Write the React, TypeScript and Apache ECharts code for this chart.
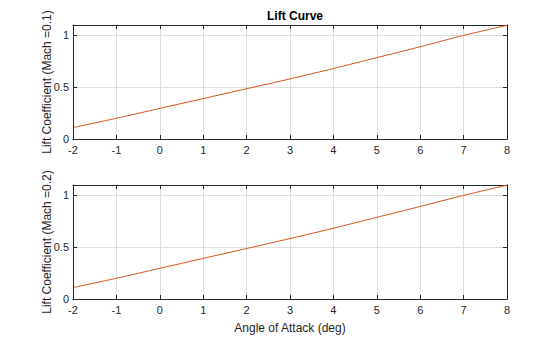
import React, { useEffect, useRef } from "react";
import * as echarts from "echarts";

const angles = [-2, -1, 0, 1, 2, 3, 4, 5, 6, 7, 8];
const liftMach01 = [0.11, 0.2, 0.295, 0.39, 0.485, 0.58, 0.68, 0.785, 0.89, 1.0, 1.097];
const liftMach02 = [0.11, 0.2, 0.296, 0.392, 0.487, 0.583, 0.683, 0.788, 0.893, 1.0, 1.099];
const xTicks = [-2, -1, 0, 1, 2, 3, 4, 5, 6, 7, 8];
const yTicks = [0, 0.5, 1];

const FONT = "Liberation Sans, Arial, Helvetica, sans-serif";
const AX = "#262626";
const GRIDC = "#dedede";
const LINE = "#D95319";

export default function App() {
  const ref = useRef<HTMLDivElement>(null);
  useEffect(() => {
    if (!ref.current) return;
    const chart = echarts.init(ref.current, undefined, { renderer: "svg" });
    const mkX = (gridIndex: number, name: string) => [
      {
        type: "value", gridIndex, min: -2, max: 8, interval: 1, position: "bottom",
        name, nameLocation: "middle", nameGap: 23, nameMoveOverlap: false,
        nameTextStyle: { fontFamily: FONT, fontSize: 12, color: AX },
        axisLine: { onZero: false, lineStyle: { color: AX, width: 1 } },
        axisTick: { inside: true, length: 4, lineStyle: { color: AX } },
        axisLabel: {
          fontFamily: FONT, fontSize: 11, color: AX, margin: 5,
          formatter: (v: number) => (xTicks.includes(v) ? String(v) : ""),
        },
        splitLine: { show: true, lineStyle: { color: GRIDC, width: 1 } },
      },
      {
        type: "value", gridIndex, min: -2, max: 8, interval: 1, position: "top",
        axisLine: { onZero: false, lineStyle: { color: AX, width: 1 } },
        axisTick: { inside: true, length: 4, lineStyle: { color: AX } },
        axisLabel: { show: false },
        splitLine: { show: false },
      },
    ];
    const mkY = (gridIndex: number, name: string) => [
      {
        type: "value", gridIndex, min: 0, max: 1.1, interval: 0.5, position: "left",
        name, nameLocation: "middle", nameGap: 20, nameRotate: 90, nameMoveOverlap: false,
        nameTextStyle: { fontFamily: FONT, fontSize: 12, color: AX },
        axisLine: { show: true, onZero: false, lineStyle: { color: AX, width: 1 } },
        axisTick: { show: true, inside: true, length: 4, lineStyle: { color: AX } },
        axisLabel: {
          fontFamily: FONT, fontSize: 11, color: AX, margin: 4, showMaxLabel: false,
          formatter: (v: number) => (yTicks.includes(v) ? String(v) : ""),
        },
        splitLine: { show: true, lineStyle: { color: GRIDC, width: 1 } },
      },
      {
        type: "value", gridIndex, min: 0, max: 1.1, interval: 0.5, position: "right",
        axisLine: { show: true, onZero: false, lineStyle: { color: AX, width: 1 } },
        axisTick: { show: true, inside: true, length: 4, lineStyle: { color: AX } },
        axisLabel: { show: false },
        splitLine: { show: false },
      },
    ];
    chart.setOption({
      animation: false,
      backgroundColor: "#ffffff",
      title: {
        text: "Lift Curve", left: 290, top: 5, textAlign: "center",
        textStyle: { fontFamily: FONT, fontSize: 12, fontWeight: "bold", color: "#000" },
      },
      grid: [
        { left: 73, top: 25, width: 434, height: 114 },
        { left: 73, top: 185, width: 434, height: 114 },
      ],
      xAxis: [...mkX(0, ""), ...mkX(1, "Angle of Attack (deg)")],
      yAxis: [...mkY(0, "Lift Coefficient (Mach =0.1)"), ...mkY(1, "Lift Coefficient (Mach =0.2)")],
      series: [
        {
          type: "line", xAxisIndex: 0, yAxisIndex: 0, showSymbol: false,
          data: angles.map((a, i) => [a, liftMach01[i]]),
          lineStyle: { color: LINE, width: 1 }, smooth: 0.2,
        },
        {
          type: "line", xAxisIndex: 2, yAxisIndex: 2, showSymbol: false,
          data: angles.map((a, i) => [a, liftMach02[i]]),
          lineStyle: { color: LINE, width: 1 }, smooth: 0.2,
        },
      ],
    });
    return () => chart.dispose();
  }, []);
  return <div ref={ref} style={{ width: 560, height: 337, position: "absolute", left: 0, top: 0 }} />;
}
